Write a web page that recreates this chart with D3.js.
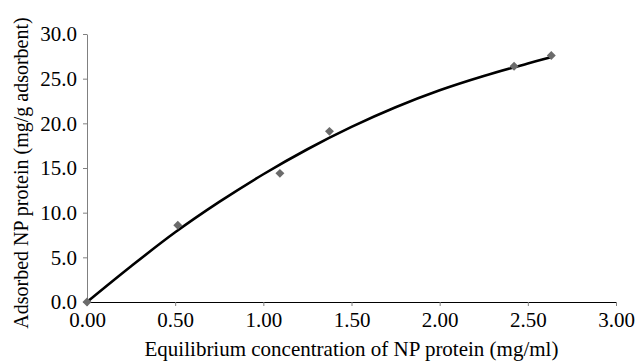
<!DOCTYPE html>
<html>
<head>
<meta charset="utf-8">
<script src="https://cdn.jsdelivr.net/npm/d3@7"></script>
<style>
  body { margin: 0; background: #fff; }
  text { font-family: "Liberation Serif", "Times New Roman", serif; }
</style>
</head>
<body>
<svg id="drawing_region"></svg>
<script>
// measured points
const conc = [0.00, 0.515, 1.094, 1.375, 2.422, 2.633];
const adsorbed = [0.0, 8.6, 14.4, 19.1, 26.4, 27.6];

// trend line
const trend_x = [0.00, 0.25, 0.50, 0.75, 1.00, 1.25, 1.50, 1.75, 2.00, 2.25, 2.50, 2.63];
const trend_y = [0.0, 4.0, 7.8, 11.2, 14.3, 17.1, 19.6, 21.8, 23.7, 25.3, 26.7, 27.4];

const xticks = [0, 0.5, 1, 1.5, 2, 2.5, 3];
const yticks = [0, 5, 10, 15, 20, 25, 30];

const xlabel = 'Equilibrium concentration of NP protein (mg/ml)';
const ylabel = 'Adsorbed NP protein (mg/g adsorbent)';

const width = 643, height = 363;
const margin = {top: 34, right: 27, bottom: 61, left: 87};
const inner_width = width - margin.left - margin.right;
const inner_height = height - margin.top - margin.bottom;

const svg = d3.select('#drawing_region')
    .attr('width', width)
    .attr('height', height);

const chart = svg.append('g')
    .attr('transform', `translate(${margin.left}, ${margin.top})`);

const xscale = d3.scaleLinear().domain([0, 3]).range([0, inner_width]);
const yscale = d3.scaleLinear().domain([0, 30]).range([inner_height, 0]);

// y axis
const yaxis_group = chart.append('g')
    .call(d3.axisLeft(yscale).tickValues(yticks).tickFormat(d3.format('.1f'))
        .tickSize(4).tickSizeOuter(0).tickPadding(6));
yaxis_group.select('.domain').attr('stroke', '#808080');
yaxis_group.selectAll('.tick line').attr('stroke', '#808080');
yaxis_group.selectAll('text')
    .style('font-size', '21px')
    .attr('fill', '#000');

// x axis
const xaxis_group = chart.append('g')
    .attr('transform', `translate(0, ${inner_height})`)
    .call(d3.axisBottom(xscale).tickValues(xticks).tickFormat(d3.format('.2f'))
        .tickSize(4).tickSizeOuter(0).tickPadding(6));
xaxis_group.select('.domain').attr('stroke', '#000');
xaxis_group.selectAll('.tick line').attr('stroke', '#808080');
xaxis_group.selectAll('text')
    .style('font-size', '21px')
    .attr('fill', '#000');

// axis titles
svg.append('text')
    .attr('text-anchor', 'middle')
    .attr('x', margin.left + inner_width / 2)
    .attr('y', 356)
    .style('font-size', '21px')
    .text(xlabel);

svg.append('text')
    .attr('text-anchor', 'middle')
    .attr('transform', 'rotate(-90)')
    .attr('x', -173)
    .attr('y', 28)
    .style('font-size', '20px')
    .text(ylabel);

// trend line
const trend = trend_x.map((x, i) => ({x: x, y: trend_y[i]}));
chart.append('path')
    .datum(trend)
    .attr('fill', 'none')
    .attr('stroke', '#000')
    .attr('stroke-width', 2.6)
    .attr('d', d3.line()
        .x(d => xscale(d.x))
        .y(d => yscale(d.y))
        .curve(d3.curveCatmullRom));

// points
const points = conc.map((x, i) => ({x: x, y: adsorbed[i]}));
chart.selectAll('.pt')
    .data(points)
    .enter()
    .append('path')
    .attr('class', 'pt')
    .attr('d', d3.symbol().type(d3.symbolSquare).size(40))
    .attr('transform', d => `translate(${xscale(d.x)}, ${yscale(d.y)}) rotate(45)`)
    .attr('fill', '#6b6b6b');
</script>
</body>
</html>
